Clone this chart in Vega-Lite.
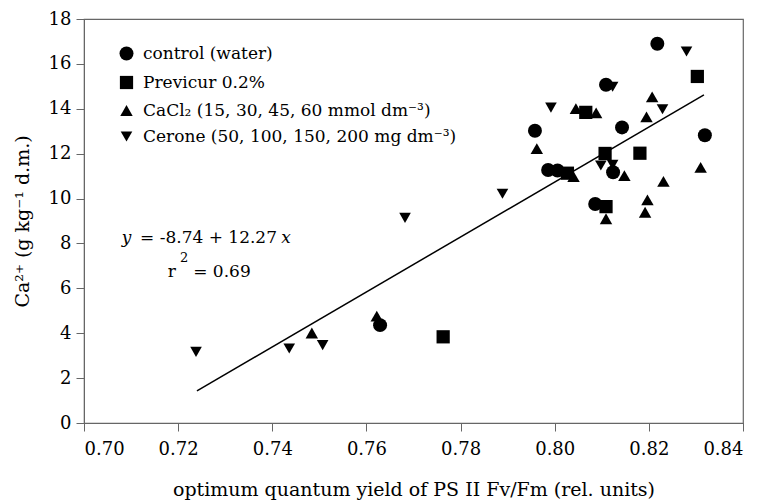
{
  "$schema": "https://vega.github.io/schema/vega-lite/v6.json",
  "width": 659,
  "height": 404,
  "autosize": {"type": "none"},
  "padding": {"left": 84, "top": 19, "right": 24, "bottom": 79},
  "background": "white",
  "config": {
    "font": "DejaVu Serif",
    "view": {"stroke": "#666", "strokeWidth": 1.2},
    "axis": {
      "grid": false,
      "domainColor": "#666",
      "tickColor": "#666",
      "tickSize": 8,
      "labelColor": "black",
      "titleColor": "black",
      "labelFont": "DejaVu Serif",
      "titleFont": "DejaVu Serif",
      "labelFontSize": 18,
      "titleFontSize": 19,
      "titleFontWeight": "normal"
    },
    "legend": {
      "labelFont": "DejaVu Serif",
      "labelFontSize": 17,
      "labelColor": "black",
      "labelLimit": 0,
      "symbolFillColor": "black",
      "symbolStrokeColor": "black",
      "symbolOpacity": 1,
      "padding": 0
    }
  },
  "datasets": {
    "points": [
      {"fvfm": 0.8218, "ca": 16.90, "group": "control (water)"},
      {"fvfm": 0.8109, "ca": 15.07, "group": "control (water)"},
      {"fvfm": 0.7958, "ca": 13.02, "group": "control (water)"},
      {"fvfm": 0.8143, "ca": 13.17, "group": "control (water)"},
      {"fvfm": 0.8319, "ca": 12.82, "group": "control (water)"},
      {"fvfm": 0.7986, "ca": 11.27, "group": "control (water)"},
      {"fvfm": 0.8006, "ca": 11.25, "group": "control (water)"},
      {"fvfm": 0.8124, "ca": 11.17, "group": "control (water)"},
      {"fvfm": 0.8086, "ca": 9.76, "group": "control (water)"},
      {"fvfm": 0.7629, "ca": 4.36, "group": "control (water)"},
      {"fvfm": 0.8303, "ca": 15.44, "group": "Previcur 0.2%"},
      {"fvfm": 0.8066, "ca": 13.84, "group": "Previcur 0.2%"},
      {"fvfm": 0.8107, "ca": 12.01, "group": "Previcur 0.2%"},
      {"fvfm": 0.8181, "ca": 12.02, "group": "Previcur 0.2%"},
      {"fvfm": 0.8027, "ca": 11.13, "group": "Previcur 0.2%"},
      {"fvfm": 0.8109, "ca": 9.64, "group": "Previcur 0.2%"},
      {"fvfm": 0.7763, "ca": 3.84, "group": "Previcur 0.2%"},
      {"fvfm": 0.8207, "ca": 14.53, "group": "CaCl₂ (15, 30, 45, 60 mmol dm⁻³)"},
      {"fvfm": 0.8045, "ca": 14.01, "group": "CaCl₂ (15, 30, 45, 60 mmol dm⁻³)"},
      {"fvfm": 0.8088, "ca": 13.82, "group": "CaCl₂ (15, 30, 45, 60 mmol dm⁻³)"},
      {"fvfm": 0.8195, "ca": 13.64, "group": "CaCl₂ (15, 30, 45, 60 mmol dm⁻³)"},
      {"fvfm": 0.7962, "ca": 12.22, "group": "CaCl₂ (15, 30, 45, 60 mmol dm⁻³)"},
      {"fvfm": 0.8040, "ca": 10.98, "group": "CaCl₂ (15, 30, 45, 60 mmol dm⁻³)"},
      {"fvfm": 0.8148, "ca": 11.02, "group": "CaCl₂ (15, 30, 45, 60 mmol dm⁻³)"},
      {"fvfm": 0.8231, "ca": 10.77, "group": "CaCl₂ (15, 30, 45, 60 mmol dm⁻³)"},
      {"fvfm": 0.8310, "ca": 11.39, "group": "CaCl₂ (15, 30, 45, 60 mmol dm⁻³)"},
      {"fvfm": 0.8197, "ca": 9.94, "group": "CaCl₂ (15, 30, 45, 60 mmol dm⁻³)"},
      {"fvfm": 0.8192, "ca": 9.39, "group": "CaCl₂ (15, 30, 45, 60 mmol dm⁻³)"},
      {"fvfm": 0.8109, "ca": 9.10, "group": "CaCl₂ (15, 30, 45, 60 mmol dm⁻³)"},
      {"fvfm": 0.7484, "ca": 4.01, "group": "CaCl₂ (15, 30, 45, 60 mmol dm⁻³)"},
      {"fvfm": 0.7622, "ca": 4.76, "group": "CaCl₂ (15, 30, 45, 60 mmol dm⁻³)"},
      {"fvfm": 0.8280, "ca": 16.55, "group": "Cerone (50, 100, 150, 200 mg dm⁻³)"},
      {"fvfm": 0.8123, "ca": 14.98, "group": "Cerone (50, 100, 150, 200 mg dm⁻³)"},
      {"fvfm": 0.7992, "ca": 14.05, "group": "Cerone (50, 100, 150, 200 mg dm⁻³)"},
      {"fvfm": 0.8229, "ca": 13.98, "group": "Cerone (50, 100, 150, 200 mg dm⁻³)"},
      {"fvfm": 0.8098, "ca": 11.47, "group": "Cerone (50, 100, 150, 200 mg dm⁻³)"},
      {"fvfm": 0.8123, "ca": 11.50, "group": "Cerone (50, 100, 150, 200 mg dm⁻³)"},
      {"fvfm": 0.7889, "ca": 10.21, "group": "Cerone (50, 100, 150, 200 mg dm⁻³)"},
      {"fvfm": 0.7682, "ca": 9.14, "group": "Cerone (50, 100, 150, 200 mg dm⁻³)"},
      {"fvfm": 0.7238, "ca": 3.17, "group": "Cerone (50, 100, 150, 200 mg dm⁻³)"},
      {"fvfm": 0.7436, "ca": 3.32, "group": "Cerone (50, 100, 150, 200 mg dm⁻³)"},
      {"fvfm": 0.7507, "ca": 3.47, "group": "Cerone (50, 100, 150, 200 mg dm⁻³)"}
    ],
    "fit": [
      {"fvfm": 0.7240, "ca": 1.43},
      {"fvfm": 0.8317, "ca": 14.62}
    ],
    "eqItalic": [
      {"fvfm": 0.7080, "ca": 8.03, "label": "y"},
      {"fvfm": 0.7419, "ca": 8.03, "label": "x"}
    ],
    "eqPlain": [
      {"fvfm": 0.7119, "ca": 8.03, "label": "= -8.74 + 12.27"},
      {"fvfm": 0.7178, "ca": 6.49, "label": "r"},
      {"fvfm": 0.7232, "ca": 6.49, "label": "= 0.69"}
    ],
    "eqSup": [
      {"fvfm": 0.7204, "ca": 7.16, "label": "2"}
    ]
  },
  "layer": [
    {
      "data": {"name": "fit"},
      "mark": {"type": "line", "color": "black", "strokeWidth": 1.5},
      "encoding": {
        "x": {"field": "fvfm", "type": "quantitative"},
        "y": {"field": "ca", "type": "quantitative"}
      }
    },
    {
      "data": {"name": "points"},
      "mark": {"type": "point", "filled": true, "opacity": 1, "color": "black"},
      "encoding": {
        "x": {
          "field": "fvfm", "type": "quantitative",
          "scale": {"domain": [0.70, 0.84], "nice": false, "zero": false},
          "axis": {"values": [0.70, 0.72, 0.74, 0.76, 0.78, 0.80, 0.82, 0.84], "format": ".2f", "labelPadding": 9, "titlePadding": 22,
                   "title": "optimum quantum yield of PS II Fv/Fm (rel. units)"}
        },
        "y": {
          "field": "ca", "type": "quantitative",
          "scale": {"domain": [0, 18], "nice": false},
          "axis": {"values": [0, 2, 4, 6, 8, 10, 12, 14, 16, 18], "format": "d", "labelPadding": 5, "titlePadding": 16,
                   "title": "Ca²⁺ (g kg⁻¹ d.m.)"}
        },
        "shape": {
          "field": "group", "type": "nominal",
          "scale": {
            "domain": ["control (water)", "Previcur 0.2%", "CaCl₂ (15, 30, 45, 60 mmol dm⁻³)", "Cerone (50, 100, 150, 200 mg dm⁻³)"],
            "range": ["circle", "square", "triangle-up", "triangle-down"]
          },
          "legend": {"title": null, "orient": "none", "legendX": 34, "legendY": 26, "rowPadding": 8, "labelOffset": 8, "labelLimit": 0}
        },
        "size": {
          "field": "group", "type": "nominal",
          "scale": {
            "domain": ["control (water)", "Previcur 0.2%", "CaCl₂ (15, 30, 45, 60 mmol dm⁻³)", "Cerone (50, 100, 150, 200 mg dm⁻³)"],
            "range": [195, 135, 220, 220]
          },
          "legend": {"title": null, "orient": "none", "legendX": 34, "legendY": 26, "rowPadding": 8, "labelOffset": 8, "labelLimit": 0}
        }
      }
    },
    {
      "data": {"name": "eqItalic"},
      "mark": {"type": "text", "align": "left", "baseline": "alphabetic", "fontSize": 17, "fontStyle": "italic", "color": "black"},
      "encoding": {
        "x": {"field": "fvfm", "type": "quantitative"},
        "y": {"field": "ca", "type": "quantitative"},
        "text": {"field": "label"}
      }
    },
    {
      "data": {"name": "eqPlain"},
      "mark": {"type": "text", "align": "left", "baseline": "alphabetic", "fontSize": 17, "color": "black"},
      "encoding": {
        "x": {"field": "fvfm", "type": "quantitative"},
        "y": {"field": "ca", "type": "quantitative"},
        "text": {"field": "label"}
      }
    },
    {
      "data": {"name": "eqSup"},
      "mark": {"type": "text", "align": "left", "baseline": "alphabetic", "fontSize": 13, "color": "black"},
      "encoding": {
        "x": {"field": "fvfm", "type": "quantitative"},
        "y": {"field": "ca", "type": "quantitative"},
        "text": {"field": "label"}
      }
    }
  ]
}
